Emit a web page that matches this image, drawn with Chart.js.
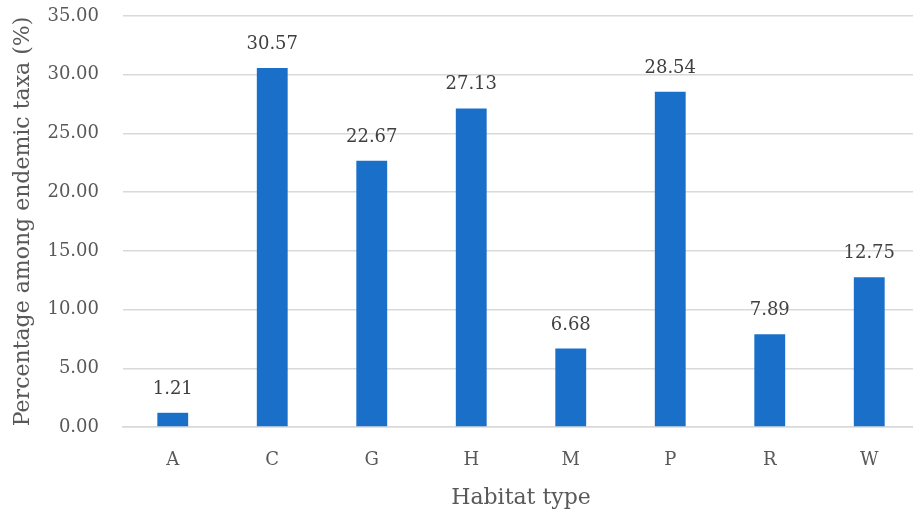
<!DOCTYPE html>
<html>
<head>
<meta charset="utf-8">
<script src="https://cdn.jsdelivr.net/npm/chart.js@4.4.1/dist/chart.umd.min.js"></script>
<style>
html,body{margin:0;padding:0;background:#fff;overflow:hidden;}
#wrap{width:919px;height:515px;position:relative;}
</style>
</head>
<body>
<div id="wrap"><canvas id="c"></canvas></div>
<script>
const categories = ["A","C","G","H","M","P","R","W"];
const values = [1.21,30.57,22.67,27.13,6.68,28.54,7.89,12.75];
const yTicks = [0,5,10,15,20,25,30,35];

const FONT = "'DejaVu Serif', serif";

const valueLabels = {
  id: 'valueLabels',
  afterDatasetsDraw(chart) {
    const ctx = chart.ctx;
    const meta = chart.getDatasetMeta(0);
    ctx.save();
    ctx.font = "18px " + FONT;
    ctx.fillStyle = "#404040";
    ctx.textAlign = "center";
    ctx.textBaseline = "alphabetic";
    meta.data.forEach((bar, i) => {
      ctx.fillText(values[i].toFixed(2), bar.x, bar.y - 19);
    });
    ctx.restore();
  }
};

new Chart(document.getElementById('c'), {
  type: 'bar',
  data: {
    labels: categories,
    datasets: [{
      data: values,
      backgroundColor: '#1a6fc9',
      barPercentage: 0.31,
      categoryPercentage: 1.0
    }]
  },
  options: {
    responsive: true,
    maintainAspectRatio: false,
    animation: false,
    layout: { padding: { top: 16, right: 0, bottom: 0, left: 0 } },
    plugins: { legend: { display: false }, tooltip: { enabled: false } },
    scales: {
      x: {
        grid: { display: false, drawTicks: false },
        border: { display: true, color: '#d9d9d9', width: 1.5 },
        ticks: { color: '#595959', font: { family: FONT, size: 18 }, padding: 23 },
        title: { display: true, text: 'Habitat type', color: '#595959', font: { family: FONT, size: 22 }, padding: { top: 8, bottom: 4 } },
        afterFit(s) { s.height = 88; s.paddingLeft = 0; s.paddingRight = 0; }
      },
      y: {
        min: 0, max: 35,
        afterBuildTicks(s) { s.ticks = yTicks.map(v => ({ value: v })); },
        grid: { color: '#d9d9d9', lineWidth: 1.5, drawTicks: false },
        border: { display: false },
        ticks: { color: '#595959', font: { family: FONT, size: 18 }, padding: 24, callback: v => Number(v).toFixed(2) },
        title: { display: true, text: 'Percentage among endemic taxa (%)', color: '#595959', font: { family: FONT, size: 22 }, padding: { top: 10, bottom: 4 } },
        afterFit(s) { s.width = 123; s.paddingTop = 0; s.paddingBottom = 0; }
      }
    }
  },
  plugins: [valueLabels]
});
</script>
</body>
</html>
